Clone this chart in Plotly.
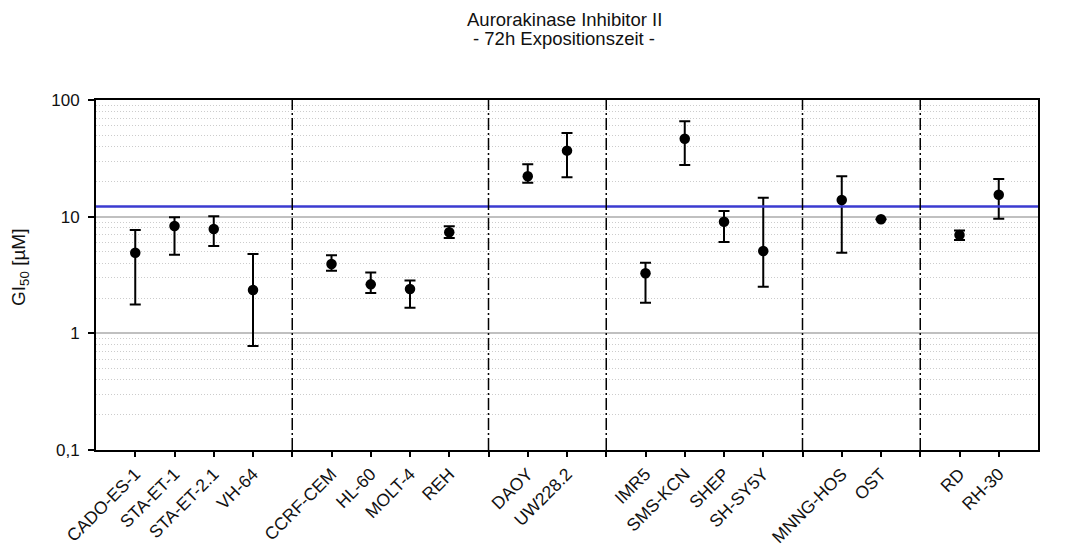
import plotly.graph_objects as go

# Data
cell_lines = ["CADO-ES-1", "STA-ET-1", "STA-ET-2.1", "VH-64",
              "CCRF-CEM", "HL-60", "MOLT-4", "REH",
              "DAOY", "UW228.2",
              "IMR5", "SMS-KCN", "SHEP", "SH-SY5Y",
              "MNNG-HOS", "OST",
              "RD", "RH-30"]
slots = [0, 1, 2, 3, 5, 6, 7, 8, 10, 11, 13, 14, 15, 16, 18, 19, 21, 22]
divider_slots = [4, 9, 12, 17, 20]
gi50 = [4.91, 8.32, 7.83, 2.35,
        3.93, 2.63, 2.40, 7.35,
        22.2, 36.8,
        3.27, 46.6, 9.05, 5.08,
        13.9, 9.49,
        6.96, 15.4]
upper = [7.69, 9.89, 10.1, 4.79,
         4.66, 3.33, 2.83, 8.27,
         28.1, 52.2,
         4.03, 65.6, 11.2, 14.5,
         22.2, 9.49,
         7.6, 21.0]
lower = [1.77, 4.72, 5.61, 0.778,
         3.44, 2.22, 1.66, 6.56,
         19.5, 21.8,
         1.83, 27.7, 6.07, 2.51,
         4.91, 9.49,
         6.3, 9.6]
mean_value = 12.2
y_ticks = [0.1, 1, 10, 100]
y_ticktext = ["0,1", "1", "10", "100"]
minor_ticks = [m * d for d in (0.1, 1, 10) for m in range(2, 10)]
title_lines = ["Aurorakinase Inhibitor II", "- 72h Expositionszeit -"]

err_plus = [u - v for u, v in zip(upper, gi50)]
err_minus = [v - l for v, l in zip(gi50, lower)]

all_slots = list(range(0, 23))
slot_text = {s: c for s, c in zip(slots, cell_lines)}
tick_text = [slot_text.get(s, "") for s in all_slots]

FONT = "Liberation Sans, Arial, sans-serif"

fig = go.Figure()
fig.add_trace(go.Scatter(
    x=slots, y=gi50, mode="markers",
    marker=dict(color="black", size=10.5),
    error_y=dict(type="data", symmetric=False, array=err_plus, arrayminus=err_minus,
                 color="black", thickness=2, width=5.5),
    showlegend=False, hoverinfo="x+y"))

# Mean line
fig.add_shape(type="line", xref="paper", yref="y", x0=0, x1=1,
              y0=mean_value, y1=mean_value, line=dict(color="#3b3bd0", width=2.5))
fig.add_annotation(xref="paper", yref="y", x=1, y=mean_value, text="Mean",
                   showarrow=False, xanchor="left", yanchor="middle", xshift=7, yshift=-2,
                   font=dict(size=13, color="#222", family=FONT))

# Divider lines
for s in divider_slots:
    fig.add_shape(type="line", xref="x", yref="paper", x0=s, x1=s, y0=0, y1=1.012,
                  line=dict(color="black", width=1.5, dash="12px,3px,2px,3px"))

# Title (two lines)
for line_text, shift in zip(title_lines, [80.5, 61.5]):
    fig.add_annotation(xref="paper", yref="paper", x=0.497, y=1, xanchor="center",
                       yanchor="middle", yshift=shift, showarrow=False, text=line_text,
                       font=dict(size=18.5, color="#111", family=FONT))

# Y axis title
fig.add_annotation(xref="paper", yref="paper", x=0, y=0.52, xanchor="center", yanchor="middle",
                   xshift=-76, showarrow=False, textangle=-90,
                   text="GI<sub>50</sub> [µM]",
                   font=dict(size=19, color="#111", family=FONT))

fig.update_layout(
    width=1083, height=546,
    margin=dict(l=96, r=45, t=100, b=96),
    paper_bgcolor="white", plot_bgcolor="white",
    font=dict(family=FONT, color="#111", size=16),
    xaxis=dict(range=[-1, 23], tickvals=all_slots, ticktext=tick_text, tickangle=-45,
               automargin=False,
               showgrid=False, zeroline=False, showline=True, linecolor="black", linewidth=2,
               mirror=True, ticks="outside", ticklen=5, tickwidth=1.5, tickcolor="black",
               tickfont=dict(size=17.5, family=FONT, color="#111")),
    yaxis=dict(type="log", range=[-1, 2], tickvals=y_ticks, ticktext=y_ticktext,
               automargin=False, ticklabelstandoff=5,
               showgrid=True, gridcolor="#c0c0c0", gridwidth=1.5,
               zeroline=False, showline=True, linecolor="black", linewidth=2, mirror=True,
               ticks="outside", ticklen=6, tickwidth=1.5, tickcolor="black",
               tickfont=dict(size=17, family=FONT, color="#111"),
               minor=dict(tickvals=minor_ticks, showgrid=True, gridcolor="#cccccc",
                          griddash="1px,2px", gridwidth=1, ticks="")),
)

fig.write_html("out.html")
